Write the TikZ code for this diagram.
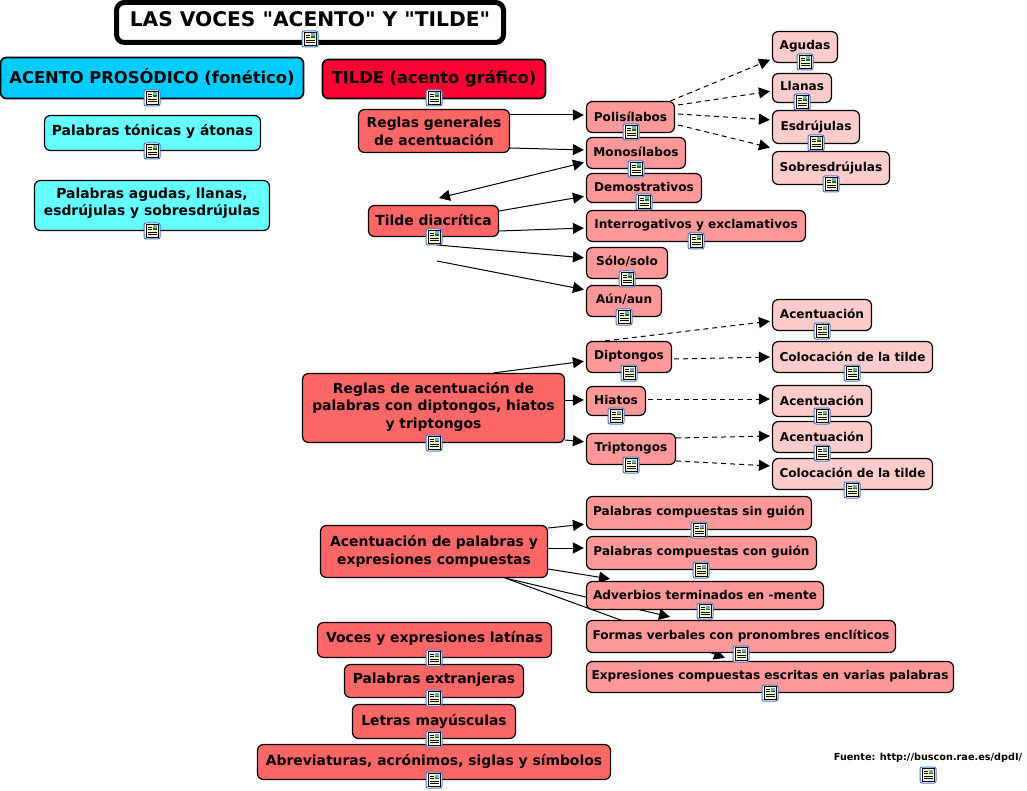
\documentclass[tikz,border=0pt]{standalone}
\usepackage{fontspec}
\setmainfont{DejaVu Sans}
\newfontfamily\straightfont{DejaVu Sans}
\usetikzlibrary{arrows.meta,backgrounds}
\pgfdeclarelayer{edgelayer}
\pgfdeclarelayer{nodelayer}
\pgfsetlayers{edgelayer,nodelayer,main}
\definecolor{lcyan}{RGB}{0,204,255}
\definecolor{lred}{RGB}{255,0,51}
\definecolor{laqua}{RGB}{102,255,255}
\definecolor{lone}{RGB}{255,102,102}
\definecolor{ltwo}{RGB}{255,153,153}
\definecolor{lthree}{RGB}{255,204,204}
\definecolor{iconblue}{RGB}{70,120,200}
\definecolor{iconpaper}{RGB}{255,255,204}
\tikzstyle{box}=[rectangle,draw=black,line width=1.2pt,rounded corners=6pt,inner sep=0pt,align=center,text height=12pt,text depth=6pt,font=\fontsize{13.9}{17.5}\selectfont\bfseries]
\tikzstyle{title}=[box,fill=white,line width=5pt,rounded corners=8pt,font=\fontsize{20.2}{24}\straightfont\bfseries]
\tikzstyle{prosodic}=[box,fill=lcyan,line width=1.7pt,font=\fontsize{16.3}{20}\selectfont\bfseries]
\tikzstyle{graphic}=[box,fill=lred,line width=1.7pt,font=\fontsize{16.3}{20}\selectfont\bfseries]
\tikzstyle{aqua}=[box,fill=laqua]
\tikzstyle{levelone}=[box,fill=lone]
\tikzstyle{leveltwo}=[box,fill=ltwo,font=\fontsize{12.1}{15}\selectfont\bfseries]
\tikzstyle{levelthree}=[box,fill=lthree,font=\fontsize{12.1}{15}\selectfont\bfseries]
\tikzstyle{source}=[inner sep=0pt,font=\fontsize{9.7}{12}\selectfont\bfseries]
\tikzstyle{solidarrow}=[-{Triangle[length=11pt,width=11pt]},line width=1pt,shorten >=2pt]
\tikzstyle{dashedarrow}=[solidarrow,dash pattern=on 5pt off 4pt]
\tikzset{
	noteicon/.pic={
		\draw [iconblue,fill=white,line width=1pt,rounded corners=2pt] (-8,-8) rectangle (8,8);
		\draw [black,fill=iconpaper,line width=0.7pt] (-6,-6.5) rectangle (6,6.5);
		\fill [iconblue!70] (0.5,-5.5) rectangle (5,-1);
		\fill [green!50!black] (0.5,-2.5) rectangle (5,-1);
		\draw [black,line width=0.8pt] (-4,-4) -- (-0.5,-4) (-4,-1.5) -- (-0.5,-1.5) (-4,1) -- (4.5,1) (-4,3.5) -- (4.5,3.5);
	}
}
\begin{document}
\begin{tikzpicture}[x=1pt,y=-1pt]
	\useasboundingbox (0,0) rectangle (1027,791);
	\begin{pgfonlayer}{nodelayer}
		\node [style=title,minimum width=387,minimum height=40,text depth=3pt] (main) at (310,22.5) {LAS VOCES "ACENTO" Y "TILDE"};
		\node [style=prosodic,minimum width=303,minimum height=41,text depth=0pt] (acento) at (152,78) {ACENTO PROSÓDICO (fonético)};
		\node [style=graphic,minimum width=223,minimum height=39,text depth=2pt] (tilde) at (434,79) {TILDE (acento gráfico)};
		\node [style=aqua,minimum width=216,minimum height=35] (tonicas) at (152.5,133) {Palabras tónicas y átonas};
		\node [style=aqua,minimum width=235,minimum height=50,text height=21pt,text depth=0pt] (agudas) at (152,205.5) {Palabras agudas, llanas,\\esdrújulas y sobresdrújulas};
		\node [style=levelone,minimum width=151,minimum height=43,text height=29pt,text depth=0pt] (generales) at (434,131) {Reglas generales\\de acentuación};
		\node [style=levelone,minimum width=130,minimum height=31,text depth=2pt] (diacritica) at (433.5,221) {Tilde diacrítica};
		\node [style=levelone,minimum width=262,minimum height=69,text height=40pt,text depth=0pt] (diptReglas) at (433.5,408) {Reglas de acentuación de\\palabras con diptongos, hiatos\\y triptongos};
		\node [style=levelone,minimum width=227,minimum height=52,text height=25pt,text depth=0pt] (compuestas) at (434,551.5) {Acentuación de palabras y\\expresiones compuestas};
		\node [style=levelone,minimum width=234,minimum height=35,text depth=8pt] (voces) at (434.5,640) {Voces y expresiones latínas};
		\node [style=levelone,minimum width=179,minimum height=33,text depth=8pt] (extranjeras) at (434,681) {Palabras extranjeras};
		\node [style=levelone,minimum width=163,minimum height=34,text depth=5pt] (letras) at (434,721.5) {Letras mayúsculas};
		\node [style=levelone,minimum width=353,minimum height=35] (abrev) at (434,762) {Abreviaturas, acrónimos, siglas y símbolos};
		\node [style=leveltwo,minimum width=88,minimum height=31,text depth=2pt] (poli) at (630.5,117) {Polisílabos};
		\node [style=leveltwo,minimum width=99,minimum height=31,text depth=4pt] (mono) at (636,153) {Monosílabos};
		\node [style=leveltwo,minimum width=115,minimum height=29,text depth=4pt] (demos) at (644,188) {Demostrativos};
		\node [style=leveltwo,minimum width=219,minimum height=31] (interr) at (696,226) {Interrogativos y exclamativos};
		\node [style=leveltwo,minimum width=81,minimum height=31] (solo) at (627,263) {Sólo/solo};
		\node [style=leveltwo,minimum width=75,minimum height=31] (aun) at (624,301) {Aún/aun};
		\node [style=leveltwo,minimum width=85,minimum height=31,text depth=8pt] (dipt) at (629,357) {Diptongos};
		\node [style=leveltwo,minimum width=59,minimum height=29] (hiat) at (616,401) {Hiatos};
		\node [style=leveltwo,minimum width=89,minimum height=31,text depth=8pt] (tript) at (631,449) {Triptongos};
		\node [style=leveltwo,minimum width=225,minimum height=33,text depth=7pt] (sinG) at (699,513) {Palabras compuestas sin guión};
		\node [style=leveltwo,minimum width=230,minimum height=33,text depth=8pt] (conG) at (701.5,553) {Palabras compuestas con guión};
		\node [style=leveltwo,minimum width=237,minimum height=28,text depth=5pt] (adv) at (705,595.5) {Adverbios terminados en -mente};
		\node [style=leveltwo,minimum width=309,minimum height=32,text depth=7pt] (formas) at (741,636.5) {Formas verbales con pronombres enclíticos};
		\node [style=leveltwo,minimum width=367,minimum height=31,text depth=8pt] (expr) at (770,677) {Expresiones compuestas escritas en varias palabras};
		\node [style=levelthree,minimum width=65,minimum height=31] (agu) at (805,47) {Agudas};
		\node [style=levelthree,minimum width=59,minimum height=29] (lla) at (802,88) {Llanas};
		\node [style=levelthree,minimum width=87,minimum height=33,text depth=4pt] (esd) at (816,127) {Esdrújulas};
		\node [style=levelthree,minimum width=117,minimum height=33,text depth=4pt] (sob) at (831,168) {Sobresdrújulas};
		\node [style=levelthree,minimum width=99,minimum height=31,text depth=4pt] (acUno) at (822,315) {Acentuación};
		\node [style=levelthree,minimum width=160,minimum height=31,text depth=4pt] (colUno) at (852.5,357) {Colocación de la tilde};
		\node [style=levelthree,minimum width=99,minimum height=31,text depth=4pt] (acDos) at (822,401) {Acentuación};
		\node [style=levelthree,minimum width=99,minimum height=31,text depth=4pt] (acTres) at (822,437) {Acentuación};
		\node [style=levelthree,minimum width=160,minimum height=31] (colDos) at (852.5,474) {Colocación de la tilde};
		\node [style=source] (fuente) at (928,758) {Fuente: http://buscon.rae.es/dpdI/};
		\coordinate (diacTop) at (439,198);
		\coordinate (diacA) at (437,245);
		\coordinate (diacB) at (437,261);
		\coordinate (compA) at (505,578);
	\end{pgfonlayer}
	\begin{pgfonlayer}{edgelayer}
		\draw [style=solidarrow] ([yshift=16pt]generales.east) to ([yshift=2pt]poli.west);
		\draw [style=solidarrow] ([yshift=-17pt]generales.east) to ([yshift=3pt]mono.west);
		\draw [style=solidarrow,{Triangle[length=11pt,width=11pt]}-{Triangle[length=11pt,width=11pt]}] (diacTop) to ([yshift=-9pt]mono.west);
		\draw [style=solidarrow] ([yshift=10pt]diacritica.east) to ([yshift=-8pt]demos.west);
		\draw [style=solidarrow] ([yshift=-10pt]diacritica.east) to ([yshift=-2pt]interr.west);
		\draw [style=solidarrow] (diacA) to ([yshift=5pt]solo.west);
		\draw [style=solidarrow] (diacB) to ([yshift=11pt]aun.west);
		\draw [style=solidarrow] ([xshift=60pt]diptReglas.north) to ([yshift=-4pt]dipt.west);
		\draw [style=solidarrow] ([yshift=8pt]diptReglas.east) to ([yshift=1pt]hiat.west);
		\draw [style=solidarrow] ([yshift=-32pt]diptReglas.east) to ([yshift=7pt]tript.west);
		\draw [style=solidarrow] ([yshift=23.5pt]compuestas.east) to ([yshift=-11pt]sinG.west);
		\draw [style=solidarrow] ([yshift=3.5pt]compuestas.east) to ([yshift=5pt]conG.west);
		\draw [style=solidarrow,shorten >=0pt] ([yshift=-17.5pt]compuestas.east) to ([xshift=-95pt,yshift=2pt]adv.north);
		\draw [style=solidarrow,shorten >=0pt] (compA) to ([xshift=-71pt,yshift=3pt]formas.north);
		\draw [style=solidarrow,shorten >=0pt] (compA) to ([xshift=-45pt,yshift=3pt]expr.north);
		\draw [style=dashedarrow] ([xshift=40pt]poli.north) to ([yshift=-12pt]agu.west);
		\draw [style=dashedarrow] ([xshift=3pt,yshift=12pt]poli.east) to ([yshift=-3pt]lla.west);
		\draw [style=dashedarrow] ([xshift=3pt,yshift=3pt]poli.east) to ([yshift=7pt]esd.west);
		\draw [style=dashedarrow] ([xshift=3pt,yshift=-8pt]poli.east) to ([yshift=20pt]sob.west);
		\draw [style=dashedarrow] ([xshift=-24pt]dipt.north) to ([yshift=-6pt]acUno.west);
		\draw [style=dashedarrow] ([xshift=2pt,yshift=-2pt]dipt.east) to (colUno.west);
		\draw [style=dashedarrow] ([xshift=2pt,yshift=2pt]hiat.east) to ([yshift=2pt]acDos.west);
		\draw [style=dashedarrow] ([yshift=11pt]tript.east) to ([yshift=1pt]acTres.west);
		\draw [style=dashedarrow] ([yshift=-12pt]tript.east) to ([yshift=8pt]colDos.west);
	\end{pgfonlayer}
	\pic at (310,39) {noteicon};
	\pic at (152,98) {noteicon};
	\pic at (434,98) {noteicon};
	\pic at (152,151) {noteicon};
	\pic at (152,231) {noteicon};
	\pic at (434,237) {noteicon};
	\pic at (434,443) {noteicon};
	\pic at (434,658) {noteicon};
	\pic at (434,698) {noteicon};
	\pic at (434,739) {noteicon};
	\pic at (434,780) {noteicon};
	\pic at (631,132) {noteicon};
	\pic at (636,169) {noteicon};
	\pic at (644,202) {noteicon};
	\pic at (696,241) {noteicon};
	\pic at (627,279) {noteicon};
	\pic at (624,317) {noteicon};
	\pic at (629,373) {noteicon};
	\pic at (616,416) {noteicon};
	\pic at (631,465) {noteicon};
	\pic at (699,530) {noteicon};
	\pic at (701,570) {noteicon};
	\pic at (705,611) {noteicon};
	\pic at (741,654) {noteicon};
	\pic at (770,693) {noteicon};
	\pic at (805,62) {noteicon};
	\pic at (802,102) {noteicon};
	\pic at (816,143) {noteicon};
	\pic at (831,184) {noteicon};
	\pic at (822,331) {noteicon};
	\pic at (852,373) {noteicon};
	\pic at (822,416) {noteicon};
	\pic at (822,453) {noteicon};
	\pic at (852,490) {noteicon};
	\pic at (928,775) {noteicon};
\end{tikzpicture}
\end{document}
